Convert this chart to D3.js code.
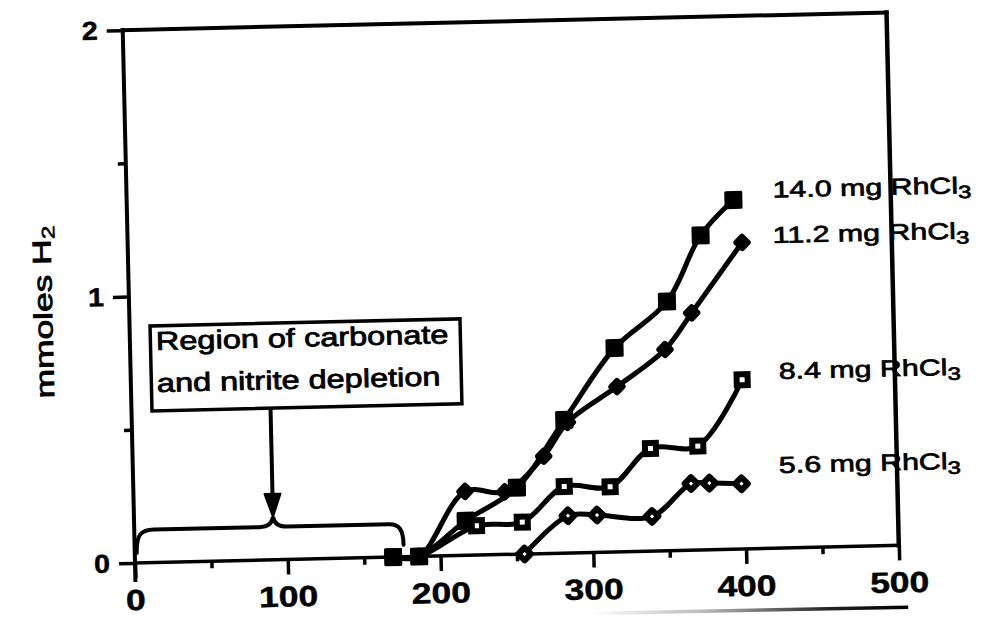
<!DOCTYPE html>
<html>
<head>
<meta charset="utf-8">
<script src="https://cdn.jsdelivr.net/npm/d3@7"></script>
<style>
  html, body { margin: 0; background: #fff; }
  svg { display: block; }
</style>
</head>
<body>
<svg id="chart" width="985" height="617"></svg>
<script>
// Hydrogen evolved (mmoles) against time (min) for four RhCl3 loadings
const time14 = [169, 186, 217, 251, 283, 317, 352, 375, 397];
const h2_14  = [0, 0, 0.13, 0.25, 0.50, 0.765, 0.935, 1.18, 1.31];

const time11 = [169, 186, 217, 243, 269, 285, 318, 350, 368, 402];
const h2_11  = [0, 0, 0.24, 0.235, 0.365, 0.49, 0.62, 0.755, 0.89, 1.15];

const time8 = [169, 186, 224, 254, 282, 312, 339, 370, 400];
const h2_8  = [0, 0, 0.11, 0.12, 0.25, 0.245, 0.385, 0.39, 0.635];

const time5 = [255, 284, 303, 339, 365, 377, 398];
const h2_5  = [0, 0.14, 0.14, 0.13, 0.25, 0.25, 0.245];

const seriesNames = ["14.0 mg RhCl", "11.2 mg RhCl", "8.4 mg RhCl", "5.6 mg RhCl"];
const xTicks = [0, 100, 200, 300, 400, 500];
const xMinorTicks = [50, 150, 250, 350, 450];
const yTicks = [0, 1, 2];
const yMinorTicks = [0.5, 1.5];
const yTitle = "mmoles H";
const noteLines = ["Region of carbonate", "and nitrite depletion"];
const depletionEnd = 176; // time (min) where the bracketed region ends

const FONT = "'Liberation Sans', Arial, Helvetica, sans-serif";
const svg = d3.select("#chart");
const W = 764, H = 533;
const x = d3.scaleLinear().domain([0, 500]).range([0, W]);
const y = d3.scaleLinear().domain([0, 2]).range([0, -H]);

// whole figure sits slightly tilted, pivoting on the origin
const plot = svg.append("g").attr("transform", "translate(135,563) rotate(-1.32)");

// faint rule under the lower right of the figure
const defs = svg.append("defs");
const grad = defs.append("linearGradient").attr("id", "ruleFade")
  .attr("gradientUnits", "userSpaceOnUse")
  .attr("x1", 455).attr("x2", 772).attr("y1", 0).attr("y2", 0);
grad.append("stop").attr("offset", 0).attr("stop-color", "#fff");
grad.append("stop").attr("offset", 0.35).attr("stop-color", "#bbb");
grad.append("stop").attr("offset", 0.75).attr("stop-color", "#222");
grad.append("stop").attr("offset", 1).attr("stop-color", "#000");
plot.append("line")
  .attr("x1", 455).attr("x2", 772).attr("y1", 61).attr("y2", 62)
  .attr("stroke", "url(#ruleFade)").attr("stroke-width", 3.5);

// ---- frame and axes ----
const frame = plot.append("g").attr("fill", "none").attr("stroke", "#000")
  .attr("stroke-linecap", "square");
frame.append("line").attr("x1", x(0)).attr("x2", x(0)).attr("y1", 17).attr("y2", y(2)).attr("stroke-width", 4);
frame.append("line").attr("x1", x(0)).attr("x2", x(500)).attr("y1", y(2)).attr("y2", y(2)).attr("stroke-width", 4);
frame.append("line").attr("x1", x(500)).attr("x2", x(500)).attr("y1", y(2)).attr("y2", 0).attr("stroke-width", 4.5);
frame.append("line").attr("x1", x(0)).attr("x2", x(500)).attr("y1", 0).attr("y2", 0).attr("stroke-width", 3.5);

function tickStyle(sel) {
  sel.select(".domain").remove();
  sel.selectAll(".tick line").attr("stroke", "#000").attr("stroke-width", 3.5);
  sel.selectAll(".tick text").remove();
}
plot.append("g").call(d3.axisBottom(x).tickValues(xTicks).tickSize(15)).call(tickStyle);
plot.append("g").call(d3.axisBottom(x).tickValues(xMinorTicks).tickSize(7)).call(tickStyle);
plot.append("g").call(d3.axisLeft(y).tickValues(yTicks).tickSize(16)).call(tickStyle);
plot.append("g").call(d3.axisLeft(y).tickValues(yMinorTicks).tickSize(8)).call(tickStyle);

// tick labels (the typeface in this figure runs wide and heavy)
plot.append("g").selectAll("text").data(xTicks).join("text")
  .attr("transform", d => `translate(${x(d)},47) scale(1.22,1)`)
  .attr("text-anchor", "middle")
  .attr("font-family", FONT).attr("font-weight", "bold").attr("font-size", 29)
  .attr("stroke", "#000").attr("stroke-width", 0.5)
  .text(d => d);
plot.append("g").selectAll("text").data(yTicks).join("text")
  .attr("transform", d => `translate(-25,${y(d) + 9}) scale(1.1,1)`)
  .attr("text-anchor", "end")
  .attr("font-family", FONT).attr("font-weight", "bold").attr("font-size", 26)
  .attr("stroke", "#000").attr("stroke-width", 0.5)
  .text(d => d);

// y axis title with subscript
const yt = plot.append("text")
  .attr("transform", "translate(-77,-253) rotate(-90) scale(1.36,1)")
  .attr("text-anchor", "middle")
  .attr("font-family", FONT).attr("font-size", 26)
  .attr("stroke", "#000").attr("stroke-width", 0.8);
yt.append("tspan").text(yTitle);
yt.append("tspan").attr("font-size", 18).attr("dy", 4).attr("stroke-width", 0.6).text("2");

// ---- annotation: boxed note, arrow and bracket over the early region ----
const note = plot.append("g");
note.append("rect")
  .attr("x", 20.5).attr("y", -236.6).attr("width", 310).attr("height", 85)
  .attr("fill", "#fff").attr("stroke", "#000").attr("stroke-width", 3.5);
note.selectAll("text").data(noteLines).join("text")
  .attr("transform", (d, i) => `translate(26,${-212.5 + i * 42}) scale(1.25,1)`)
  .attr("font-family", FONT).attr("font-size", 26)
  .attr("stroke", "#000").attr("stroke-width", 0.8)
  .text(d => d);

const mid = x(depletionEnd / 2 + 3);
note.append("line")
  .attr("x1", mid).attr("x2", mid).attr("y1", -151).attr("y2", -62)
  .attr("stroke", "#000").attr("stroke-width", 4);
note.append("path")
  .attr("d", `M${mid - 8},-66 L${mid},-43 L${mid + 8},-66 Z`)
  .attr("fill", "#000").attr("stroke", "#000").attr("stroke-width", 2)
  .attr("stroke-linejoin", "round");

const bx0 = x(0) + 2, bx1 = x(depletionEnd);
note.append("path")
  .attr("d", `M${bx0},-10 C${bx0},-28 ${bx0 + 4},-33 ${bx0 + 18},-33
              L${mid - 14},-33 C${mid - 6},-33 ${mid - 1},-36 ${mid},-43
              C${mid + 1},-36 ${mid + 6},-33 ${mid + 14},-33
              L${bx1 - 14},-33 C${bx1 - 4},-33 ${bx1},-27 ${bx1},-12`)
  .attr("fill", "none").attr("stroke", "#000").attr("stroke-width", 4)
  .attr("stroke-linecap", "round");

// ---- data series ----
const series = [
  { t: time8,  h: h2_8,  marker: "openSquare" },
  { t: time5,  h: h2_5,  marker: "openDiamond" },
  { t: time11, h: h2_11, marker: "diamond" },
  { t: time14, h: h2_14, marker: "square" }
];

const line = d3.line()
  .x(d => x(d[0])).y(d => y(d[1]))
  .curve(d3.curveCatmullRom.alpha(0.5));

const lines = plot.append("g");
series.forEach(s => {
  const pts = s.t.map((t, i) => [t, s.h[i]]);
  lines.append("path").datum(pts).attr("d", line)
    .attr("fill", "none").attr("stroke", "#000").attr("stroke-width", 5)
    .attr("stroke-linejoin", "round").attr("stroke-linecap", "round");
});

const marks = plot.append("g");
series.forEach(s => {
  const pts = s.t.map((t, i) => [t, s.h[i]]);
  const g = marks.append("g");
  pts.forEach(p => {
    const cx = x(p[0]), cy = y(p[1]);
    if (s.marker === "square") {
      g.append("rect").attr("x", cx - 9).attr("y", cy - 9)
        .attr("width", 18).attr("height", 18).attr("rx", 1.5).attr("fill", "#000");
    } else if (s.marker === "openSquare") {
      g.append("rect").attr("x", cx - 5.5).attr("y", cy - 5.5)
        .attr("width", 11).attr("height", 11)
        .attr("fill", "#fff").attr("stroke", "#000").attr("stroke-width", 6);
    } else if (s.marker === "diamond") {
      g.append("rect").attr("x", -7).attr("y", -7).attr("width", 14).attr("height", 14)
        .attr("rx", 3)
        .attr("transform", `translate(${cx},${cy}) rotate(45)`).attr("fill", "#000");
    } else {
      g.append("rect").attr("x", -4.5).attr("y", -4.5).attr("width", 9).attr("height", 9)
        .attr("transform", `translate(${cx},${cy}) rotate(45)`)
        .attr("fill", "#fff").attr("stroke", "#000").attr("stroke-width", 6)
        .attr("stroke-linejoin", "round");
    }
  });
});

// ---- series labels at the right ----
const labelSpots = [[646, -350.7], [645, -305.2], [648, -169.2], [646, -75.2]];
seriesNames.forEach((name, i) => {
  const t = plot.append("text")
    .attr("transform", `translate(${labelSpots[i][0]},${labelSpots[i][1]}) scale(1.32,1)`)
    .attr("font-family", FONT).attr("font-size", 23)
    .attr("stroke", "#000").attr("stroke-width", 0.7);
  t.append("tspan").text(name);
  t.append("tspan").attr("font-size", 18).attr("dy", 5).text("3");
});
</script>
</body>
</html>
